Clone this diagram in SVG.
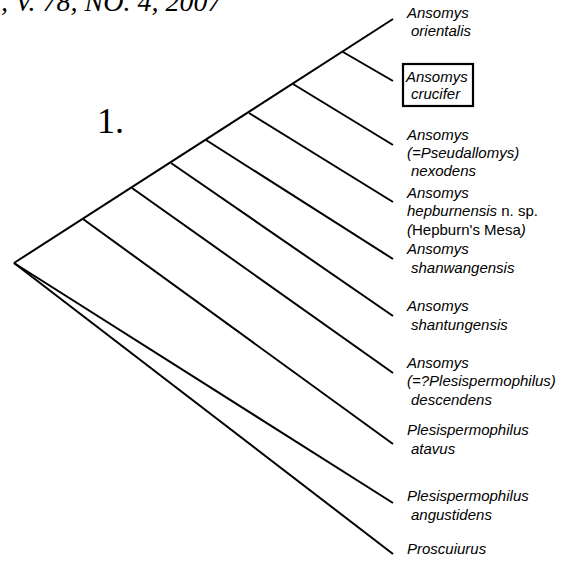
<svg xmlns="http://www.w3.org/2000/svg" width="565" height="569" viewBox="0 0 565 569">
<style>
.e{stroke:#000;stroke-width:2;fill:none;stroke-linecap:butt}
.t{font-family:"Liberation Sans",Arial,sans-serif;font-size:15px;font-style:italic;fill:#000}
.n{font-style:normal}
.h{font-family:"Liberation Serif","Times New Roman",serif;fill:#000}
</style>
<rect width="565" height="569" fill="#fff"/>
<text class="h" x="1" y="11" font-size="28" font-style="italic">, V. 78, NO. 4, 2007</text>
<text class="h" x="97" y="133" font-size="36">1.</text>
<g id="connectors">
<line class="e" x1="14" y1="263" x2="393" y2="19"/>
<line class="e" x1="343" y1="52" x2="393" y2="81"/>
<line class="e" x1="293" y1="84" x2="393" y2="145"/>
<line class="e" x1="249" y1="113" x2="393" y2="202"/>
<line class="e" x1="206" y1="140" x2="393" y2="259"/>
<line class="e" x1="171" y1="163" x2="393" y2="316"/>
<line class="e" x1="132" y1="188" x2="393" y2="373"/>
<line class="e" x1="83" y1="219" x2="393" y2="444"/>
<line class="e" x1="14" y1="263" x2="393" y2="503"/>
<line class="e" x1="14" y1="263" x2="393" y2="554"/>
</g>
<g id="orientalis"><text class="t" x="407" y="18">Ansomys</text><text class="t" x="411" y="36">orientalis</text></g>
<g id="crucifer"><rect x="403" y="64" width="70" height="42" fill="none" stroke="#000" stroke-width="2.2"/><text class="t" x="406" y="82">Ansomys</text><text class="t" x="411" y="99">crucifer</text></g>
<g id="nexodens"><text class="t" x="407" y="140">Ansomys</text><text class="t" x="407" y="158">(=Pseudallomys)</text><text class="t" x="411" y="176">nexodens</text></g>
<g id="hepburnensis"><text class="t" x="407" y="198">Ansomys</text><text class="t" x="407" y="216">hepburnensis<tspan class="n"> n. sp.</tspan></text><text class="t" x="407" y="235">(<tspan class="n">Hepburn's Mesa</tspan>)</text></g>
<g id="shanwangensis"><text class="t" x="407" y="254">Ansomys</text><text class="t" x="411" y="273">shanwangensis</text></g>
<g id="shantungensis"><text class="t" x="407" y="311">Ansomys</text><text class="t" x="411" y="330">shantungensis</text></g>
<g id="descendens"><text class="t" x="407" y="368">Ansomys</text><text class="t" x="407" y="386">(=?Plesispermophilus)</text><text class="t" x="411" y="405">descendens</text></g>
<g id="atavus"><text class="t" x="407" y="435">Plesispermophilus</text><text class="t" x="411" y="454">atavus</text></g>
<g id="angustidens"><text class="t" x="407" y="501">Plesispermophilus</text><text class="t" x="411" y="520">angustidens</text></g>
<g id="proscuiurus"><text class="t" x="407" y="554">Proscuiurus</text></g>
</svg>
